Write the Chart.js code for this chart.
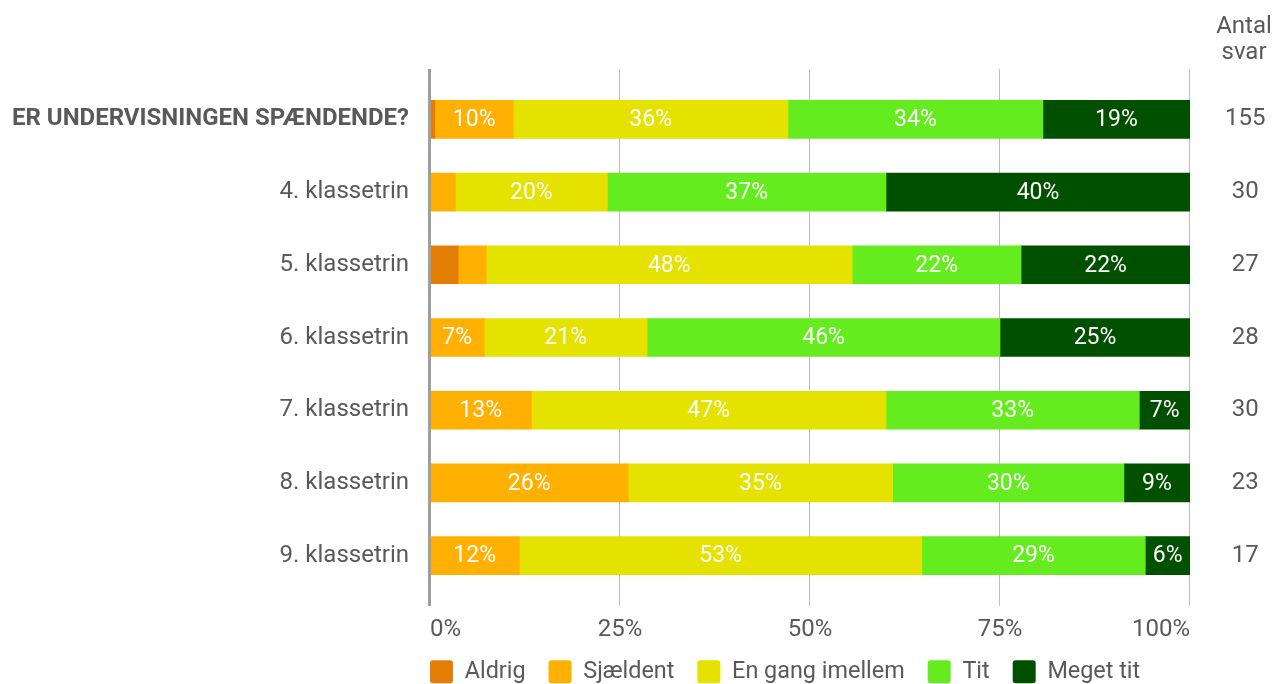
<!DOCTYPE html>
<html>
<head>
<meta charset="utf-8">
<script src="https://cdn.jsdelivr.net/npm/chart.js@4"></script>
<style>
  html, body { margin: 0; padding: 0; background: #fff; }
  #wrap { width: 1273px; height: 684px; }
</style>
</head>
<body>
<div id="wrap"><canvas id="chart"></canvas></div>
<script>
var categories = ['ER UNDERVISNINGEN SPÆNDENDE?', '4. klassetrin', '5. klassetrin', '6. klassetrin',
  '7. klassetrin', '8. klassetrin', '9. klassetrin'];
var antalSvar = [155, 30, 27, 28, 30, 23, 17];

// answers per category (counts)
var aldrig = [1, 0, 1, 0, 0, 0, 0];
var sjaeldent = [16, 1, 1, 2, 4, 6, 2];
var enGang = [56, 6, 13, 6, 14, 8, 9];
var tit = [52, 11, 6, 13, 10, 7, 5];
var megetTit = [30, 12, 6, 7, 2, 2, 1];

var seriesNames = ['Aldrig', 'Sjældent', 'En gang imellem', 'Tit', 'Meget tit'];
var seriesColors = ['#e37d03', '#ffb000', '#e6e200', '#64ec1e', '#005000'];
var xTicks = [0, 25, 50, 75, 100];

var textColor = '#595959';
Chart.defaults.font.family = 'Roboto';
Chart.defaults.font.size = 24;

function toPercent(counts) {
  return counts.map(function(c, i) { return c / antalSvar[i] * 100; });
}

var allSeries = [aldrig, sjaeldent, enGang, tit, megetTit];
var datasets = allSeries.map(function(s, i) {
  return {
    label: seriesNames[i],
    data: toPercent(s),
    backgroundColor: seriesColors[i],
    borderWidth: 0,
    barThickness: 38
  };
});

// vertical grid lines, a bit longer than the plot area
var gridLines = {
  id: 'gridLines',
  beforeDatasetsDraw: function(chart) {
    var ctx = chart.ctx, a = chart.chartArea, x = chart.scales.x;
    ctx.save();
    ctx.strokeStyle = '#bdbdbd';
    ctx.lineWidth = 1;
    xTicks.slice(1).forEach(function(v) {
      var px = Math.round(x.getPixelForValue(v)) - 0.5;
      ctx.beginPath();
      ctx.moveTo(px, a.top - 14);
      ctx.lineTo(px, a.bottom + 14);
      ctx.stroke();
    });
    ctx.restore();
  },
  afterDatasetsDraw: function(chart) {
    var ctx = chart.ctx, a = chart.chartArea, x = chart.scales.x;
    ctx.save();
    ctx.strokeStyle = '#9e9e9e';
    ctx.lineWidth = 3;
    var px = x.getPixelForValue(0) - 0.5;
    ctx.beginPath();
    ctx.moveTo(px, a.top - 14);
    ctx.lineTo(px, a.bottom + 14);
    ctx.stroke();

    // percent labels inside the bars
    ctx.font = '23px Roboto';
    ctx.fillStyle = '#ffffff';
    ctx.textAlign = 'center';
    ctx.textBaseline = 'middle';
    chart.data.datasets.forEach(function(ds, i) {
      chart.getDatasetMeta(i).data.forEach(function(bar, j) {
        var v = ds.data[j];
        if (v < 5) return;
        ctx.fillText(Math.round(v) + '%', (bar.x + bar.base) / 2, bar.y + 1);
      });
    });
    ctx.restore();
  },
  afterLayout: function(chart) {
    // legend starts at the left edge of the plot
    var pad = chart.options.plugins.legend.labels.padding;
    var w = chart.legend.right - chart.legend.left;
    chart.legend.left = chart.chartArea.left - pad;
    chart.legend.right = chart.legend.left + w;
  },
  afterDraw: function(chart) {
    var ctx = chart.ctx;
    ctx.save();
    ctx.font = '24px Roboto';
    ctx.fillStyle = textColor;
    ctx.textAlign = 'center';
    ctx.textBaseline = 'middle';
    var cx = chart.chartArea.right + 54;
    ctx.fillText('Antal', cx, 27);
    ctx.fillText('svar', cx, 53);
    ctx.restore();
  }
};

new Chart(document.getElementById('chart'), {
  type: 'bar',
  data: {
    labels: categories,
    datasets: datasets
  },
  plugins: [gridLines],
  options: {
    indexAxis: 'y',
    maintainAspectRatio: false,
    responsive: true,
    animation: false,
    layout: { padding: { top: 83, left: 0, right: 0, bottom: 0 } },
    plugins: {
      tooltip: { enabled: false },
      legend: {
        position: 'bottom',
        align: 'start',
        maxHeight: 47,
        labels: {
          boxWidth: 23,
          boxHeight: 23,
          padding: 23,
          useBorderRadius: true,
          borderRadius: 3,
          color: textColor,
          font: { size: 23.4 }
        }
      }
    },
    scales: {
      x: {
        stacked: true,
        min: 0,
        max: 100,
        border: { display: false },
        grid: { display: false, drawTicks: false },
        ticks: {
          stepSize: 25,
          padding: 24,
          align: 'inner',
          color: textColor,
          callback: function(v) { return v + '%'; }
        },
        afterFit: function(s) { s.height = 45; }
      },
      y: {
        stacked: true,
        border: { display: false },
        grid: { display: false, drawTicks: false },
        ticks: {
          padding: 21,
          color: textColor,
          font: function(c) { return { size: 24, weight: c.index === 0 ? 'bold' : 'normal' }; }
        },
        afterFit: function(s) { s.width = 430; }
      },
      y2: {
        type: 'category',
        labels: antalSvar.map(String),
        position: 'right',
        offset: true,
        border: { display: false },
        grid: { display: false, drawTicks: false },
        ticks: { padding: 35, crossAlign: 'center', color: textColor },
        afterFit: function(s) { s.width = 83; }
      }
    }
  }
});
</script>
</body>
</html>
